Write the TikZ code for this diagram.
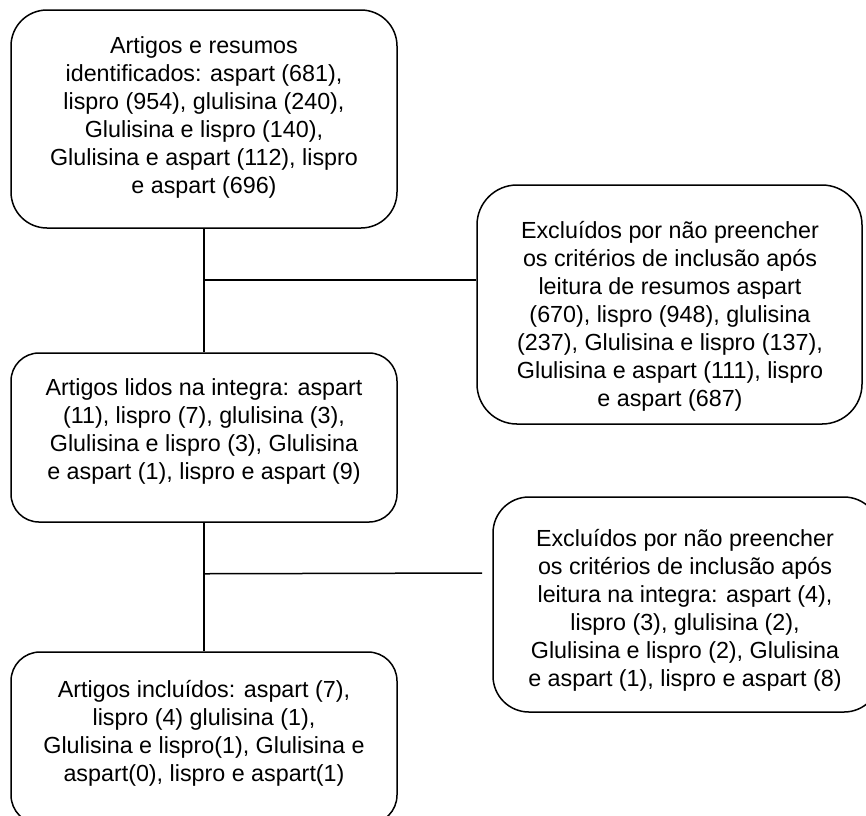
\documentclass[tikz,border=0pt]{standalone}
\usepackage{fontspec}
\setmainfont{Liberation Sans}
% invisible strut as tall as the font size, so every first line has the same top
\newcommand\capstrut{\rule{0pt}{23.3pt}}
\begin{document}
\begin{tikzpicture}[x=1pt,y=-1pt,
  flowbox/.style={draw, line width=1.5pt, rounded corners=#1, inner sep=0pt},
  txt/.style={align=center, inner sep=0pt, anchor=north,
              font=\fontsize{23.3pt}{28pt}\selectfont},
  conn/.style={draw, line width=1.5pt}]
\useasboundingbox (0,0) rectangle (866,815);
\fill[white] (0,0) rectangle (866,815);
\clip (0,0) rectangle (866,815);

% boxes
\node[flowbox=36pt, minimum width=386pt, minimum height=218pt] (b1) at (204,119) {};
\node[flowbox=40pt, minimum width=385pt, minimum height=239pt] (b2) at (669.5,304.5) {};
\node[flowbox=28pt, minimum width=386pt, minimum height=169pt] (b3) at (204,437.5) {};
\node[flowbox=36pt, minimum width=387pt, minimum height=215pt] (b4) at (686.5,604.5) {};
\node[flowbox=29pt, minimum width=386pt, minimum height=172pt] (b5) at (204,738) {};

% texts (placed by their first baseline)
\node[txt] (t1) at (204,29.7) {\capstrut Artigos e resumos\\identificados: aspart (681),\\lispro (954), glulisina (240),\\Glulisina e lispro (140),\\Glulisina e aspart (112), lispro\\e aspart (696)};
\node[txt] (t2) at (670,214.7) {\capstrut Excluídos por não preencher\\os critérios de inclusão após\\leitura de resumos aspart\\(670), lispro (948), glulisina\\(237), Glulisina e lispro (137),\\Glulisina e aspart (111), lispro\\e aspart (687)};
\node[txt] (t3) at (204,371.7) {\capstrut Artigos lidos na integra: aspart\\(11), lispro (7), glulisina (3),\\Glulisina e lispro (3), Glulisina\\e aspart (1), lispro e aspart (9)};
\node[txt] (t4) at (685,522.7) {\capstrut Excluídos por não preencher\\os critérios de inclusão após\\leitura na integra: aspart (4),\\lispro (3), glulisina (2),\\Glulisina e lispro (2), Glulisina\\e aspart (1), lispro e aspart (8)};
\node[txt] (t5) at (204,673.7) {\capstrut Artigos incluídos: aspart (7),\\lispro (4) glulisina (1),\\Glulisina e lispro(1), Glulisina e\\aspart(0), lispro e aspart(1)};

% connectors
\path (b1.south) ++(0,51) coordinate (j1);
\path (b3.south) ++(0,51) coordinate (j2);
\coordinate (e2) at (482,573);
\draw[conn] (b1.south) -- (b3.north);
\draw[conn] (j1) -- (j1 -| b2.west);
\draw[conn] (b3.south) -- (b5.north);
\draw[conn] (j2) -- (e2);
\end{tikzpicture}
\end{document}
